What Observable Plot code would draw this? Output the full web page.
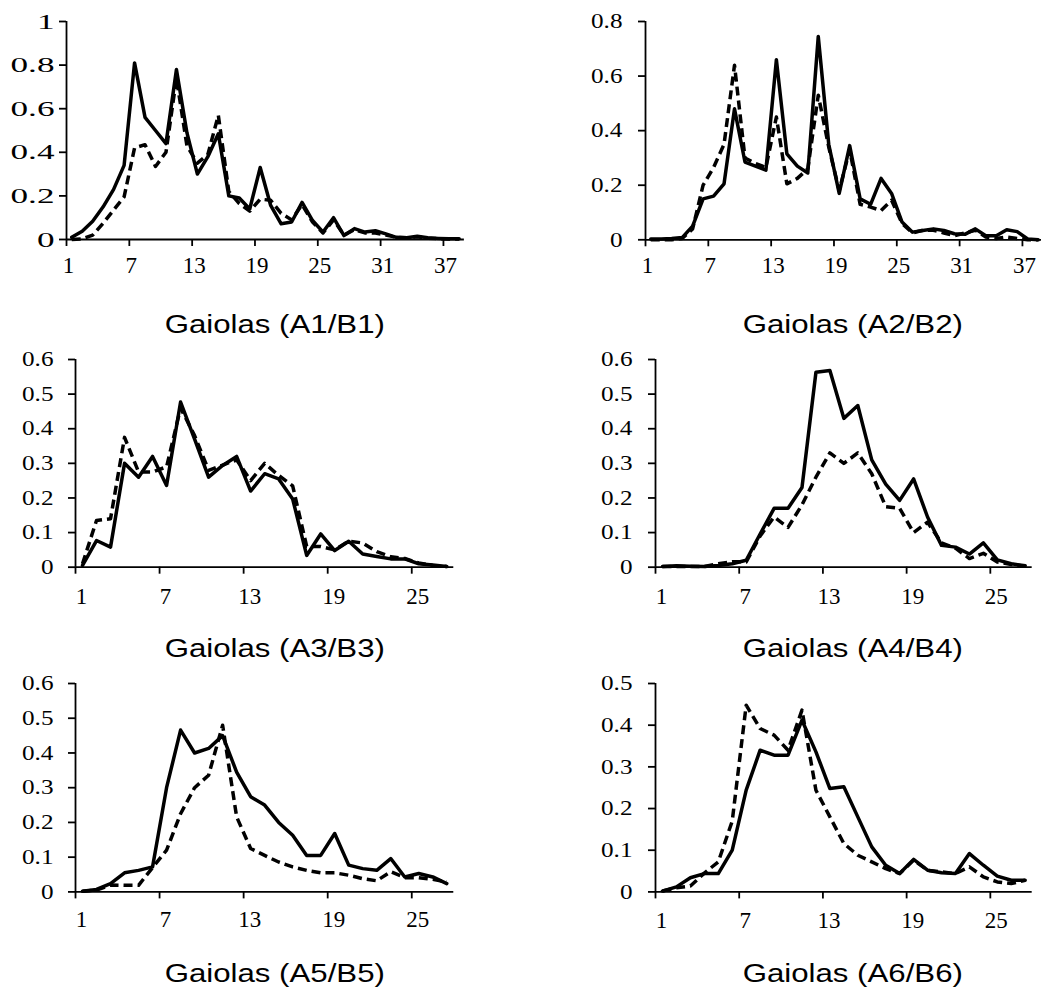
<!DOCTYPE html>
<html><head><meta charset="utf-8">
<script src="https://cdn.jsdelivr.net/npm/d3@7"></script>
<script src="https://cdn.jsdelivr.net/npm/@observablehq/plot@0.6"></script>
<style>
html,body{margin:0;padding:0;background:#fff;}
#page{position:relative;width:1041px;height:992px;overflow:hidden;background:#fff;}
.panel{position:absolute;}
.cap{position:absolute;width:400px;text-align:center;font-family:"Liberation Sans",Arial,sans-serif;font-size:26px;line-height:26px;color:#000;white-space:nowrap;}
.cap span{display:inline-block;transform:scaleX(1.2);transform-origin:50% 50%;}
</style></head><body><div id="page"></div>
<script>
// ---------- data ----------
const cats38 = d3.range(1, 39);   // categories 1..38
const cats27 = d3.range(1, 28);   // categories 1..27
const xTicks38 = [1, 7, 13, 19, 25, 31, 37];
const xTicks27 = [1, 7, 13, 19, 25];
const yTicksP1 = [0, 0.2, 0.4, 0.6, 0.8, 1];
const yTicksP2 = [0, 0.2, 0.4, 0.6, 0.8];
const yTicksP3 = [0, 0.1, 0.2, 0.3, 0.4, 0.5, 0.6];
const yTicksP6 = [0, 0.1, 0.2, 0.3, 0.4, 0.5];

// A = solid, B = dashed
const a1 = [0.01,0.038,0.084,0.15,0.23,0.34,0.81,0.56,0.50,0.44,0.78,0.49,0.30,0.38,0.485,0.20,0.19,0.14,0.33,0.156,0.072,0.08,0.17,0.087,0.034,0.10,0.018,0.05,0.034,0.04,0.026,0.01,0.008,0.015,0.008,0.005,0.003,0.003];
const b1 = [0,0.003,0.02,0.075,0.135,0.195,0.42,0.435,0.335,0.40,0.74,0.43,0.35,0.39,0.57,0.22,0.165,0.13,0.185,0.18,0.12,0.09,0.16,0.08,0.03,0.09,0.02,0.045,0.03,0.03,0.02,0.01,0.008,0.012,0.006,0.004,0.002,0.002];
const a2 = [0.003,0.003,0.005,0.008,0.05,0.15,0.16,0.205,0.48,0.285,0.27,0.255,0.66,0.315,0.27,0.245,0.745,0.35,0.17,0.345,0.15,0.13,0.225,0.17,0.065,0.028,0.034,0.04,0.034,0.022,0.02,0.04,0.015,0.015,0.037,0.03,0.003,0];
const b2 = [0,0,0,0.005,0.04,0.2,0.265,0.35,0.64,0.30,0.28,0.265,0.45,0.205,0.225,0.26,0.53,0.34,0.18,0.33,0.13,0.12,0.107,0.145,0.06,0.025,0.035,0.035,0.025,0.015,0.025,0.035,0.01,0.005,0.01,0.005,0,0];
const a3 = [0.005,0.077,0.058,0.30,0.26,0.32,0.236,0.477,0.37,0.26,0.294,0.32,0.22,0.27,0.255,0.197,0.034,0.096,0.048,0.075,0.038,0.031,0.024,0.024,0.01,0.006,0.002];
const b3 = [0.01,0.135,0.14,0.375,0.275,0.275,0.29,0.46,0.38,0.28,0.295,0.31,0.25,0.30,0.265,0.235,0.06,0.06,0.05,0.075,0.07,0.045,0.03,0.025,0.012,0.005,0.002];
const a4 = [0.002,0.004,0.003,0.002,0.005,0.01,0.02,0.096,0.17,0.17,0.23,0.563,0.568,0.43,0.467,0.31,0.24,0.193,0.255,0.145,0.063,0.058,0.038,0.07,0.021,0.01,0.004];
const b4 = [0.002,0.002,0.002,0.002,0.01,0.016,0.015,0.09,0.145,0.115,0.18,0.26,0.33,0.30,0.33,0.27,0.175,0.17,0.10,0.13,0.07,0.055,0.025,0.04,0.015,0.008,0.003];
const a5 = [0.002,0.007,0.024,0.055,0.062,0.072,0.30,0.466,0.40,0.413,0.45,0.345,0.274,0.25,0.20,0.163,0.105,0.105,0.168,0.077,0.067,0.062,0.096,0.043,0.053,0.043,0.024];
const b5 = [0.002,0.005,0.02,0.019,0.019,0.07,0.12,0.225,0.30,0.336,0.48,0.216,0.125,0.105,0.086,0.072,0.062,0.055,0.055,0.048,0.038,0.032,0.058,0.041,0.041,0.036,0.029];
const a6 = [0.002,0.012,0.034,0.044,0.044,0.10,0.244,0.34,0.328,0.328,0.412,0.336,0.248,0.252,0.18,0.108,0.064,0.044,0.078,0.052,0.046,0.044,0.092,0.064,0.038,0.028,0.028];
const b6 = [0.002,0.01,0.014,0.045,0.072,0.17,0.448,0.392,0.376,0.34,0.436,0.244,0.18,0.116,0.088,0.072,0.056,0.044,0.076,0.052,0.048,0.044,0.06,0.036,0.024,0.02,0.028];

const captions = ["Gaiolas (A1/B1)", "Gaiolas (A2/B2)", "Gaiolas (A3/B3)", "Gaiolas (A4/B4)", "Gaiolas (A5/B5)", "Gaiolas (A6/B6)"];

// ---------- layout (page pixels) ----------
const layout = [
  {axisX: 66,  xEnd: 463.9,  yTop: 21,    yZero: 239,   capX: 275, capTop: 311, yFont: 22, yStretch: 1.6, yPad: 5,  xPad: 17, xDx: 2},
  {axisX: 645, xEnd: 1042.9, yTop: 21,    yZero: 239.3, capX: 853, capTop: 311, yFont: 21, yStretch: 1.2, yPad: 16, xPad: 17, xDx: 2},
  {axisX: 75,  xEnd: 453.3,  yTop: 359,   yZero: 566.7, capX: 275, capTop: 635, yFont: 21, yStretch: 1.2, yPad: 15, xPad: 20, xDx: 6},
  {axisX: 655, xEnd: 1031.7, yTop: 359,   yZero: 566.7, capX: 853, capTop: 635, yFont: 21, yStretch: 1.2, yPad: 16, xPad: 20, xDx: 6},
  {axisX: 75,  xEnd: 453.3,  yTop: 683.3, yZero: 891.7, capX: 275, capTop: 960, yFont: 21, yStretch: 1.2, yPad: 15, xPad: 19, xDx: 6},
  {axisX: 655, xEnd: 1031.7, yTop: 683.3, yZero: 891.7, capX: 853, capTop: 960, yFont: 21, yStretch: 1.2, yPad: 16, xPad: 20, xDx: 6}
];

const panels = [
  {cats: cats38, xTicks: xTicks38, yTicks: yTicksP1, solid: a1, dashed: b1},
  {cats: cats38, xTicks: xTicks38, yTicks: yTicksP2, solid: a2, dashed: b2},
  {cats: cats27, xTicks: xTicks27, yTicks: yTicksP3, solid: a3, dashed: b3},
  {cats: cats27, xTicks: xTicks27, yTicks: yTicksP3, solid: a4, dashed: b4},
  {cats: cats27, xTicks: xTicks27, yTicks: yTicksP3, solid: a5, dashed: b5},
  {cats: cats27, xTicks: xTicks27, yTicks: yTicksP6, solid: a6, dashed: b6}
];

const page = document.getElementById("page");
const SVGNS = "http://www.w3.org/2000/svg";

function stretchTexts(svg, label, s, anchor) {
  svg.querySelectorAll(`g[aria-label="${label}"] text`).forEach(t => {
    const g = document.createElementNS(SVGNS, "g");
    t.parentNode.insertBefore(g, t);
    g.appendChild(t);
    const b = g.getBBox();
    const cx = anchor === "end" ? b.x + b.width : b.x + b.width / 2;
    g.setAttribute("transform", `translate(${cx},0) scale(${s},1) translate(${-cx},0)`);
  });
}

panels.forEach((p, idx) => {
  const cfg = layout[idx];
  const N = p.cats.length;
  const xDomain = [p.cats[0] - 0.5, p.cats[N - 1] + 0.5];
  const ymax = p.yTicks[p.yTicks.length - 1];
  const mL = 70, mR = 10, mT = 14, mB = 45;
  const innerW = cfg.xEnd - cfg.axisX, innerH = cfg.yZero - cfg.yTop;
  const rows = vals => p.cats.map((k, i) => ({k, v: vals[i]}));
  const tickPos = p.xTicks.map(t => t - 0.5);
  const chart = Plot.plot({
    width: innerW + mL + mR,
    height: innerH + mT + mB,
    marginLeft: mL, marginRight: mR, marginTop: mT, marginBottom: mB,
    x: {domain: xDomain},
    y: {domain: [0, ymax]},
    style: {background: "transparent", overflow: "visible", maxWidth: "none", color: "#000"},
    marks: [
      Plot.ruleY([0], {stroke: "#000", strokeWidth: 1.8}),
      Plot.ruleX([xDomain[0]], {stroke: "#000", strokeWidth: 1.8}),
      Plot.axisY({ticks: p.yTicks, tickSize: 7, tickPadding: cfg.yPad, tickFormat: d => String(d), label: null,
        fontSize: cfg.yFont, fontFamily: "'Liberation Serif', 'Times New Roman', serif", stroke: "#000", strokeWidth: 1.8, fill: "#000"}),
      Plot.axisX({ticks: tickPos, tickSize: 7, tickFormat: () => "", label: null, fill: "none", stroke: "#000", strokeWidth: 1.8}),
      Plot.axisX({ticks: tickPos, tickSize: 0, tickPadding: cfg.xPad, dx: cfg.xDx, tickFormat: d => String(d + 0.5), label: null,
        fontSize: 23, fontFamily: "'Liberation Serif', 'Times New Roman', serif", fill: "#000"}),
      Plot.line(rows(p.solid), {x: "k", y: "v", stroke: "#000", strokeWidth: 3.5}),
      Plot.line(rows(p.dashed), {x: "k", y: "v", stroke: "#000", strokeWidth: 3.5, strokeDasharray: "9,5", strokeLinecap: "butt"})
    ]
  });
  const div = document.createElement("div");
  div.className = "panel";
  div.style.left = (cfg.axisX - mL) + "px";
  div.style.top = (cfg.yTop - mT) + "px";
  div.style.width = (innerW + mL + mR) + "px";
  div.appendChild(chart);
  page.appendChild(div);
  stretchTexts(chart, "y-axis tick label", cfg.yStretch, "end");

  const cap = document.createElement("div");
  cap.className = "cap";
  cap.style.left = (cfg.capX - 200) + "px";
  cap.style.top = cfg.capTop + "px";
  const span = document.createElement("span");
  span.textContent = captions[idx];
  cap.appendChild(span);
  page.appendChild(cap);
});
</script></body></html>
